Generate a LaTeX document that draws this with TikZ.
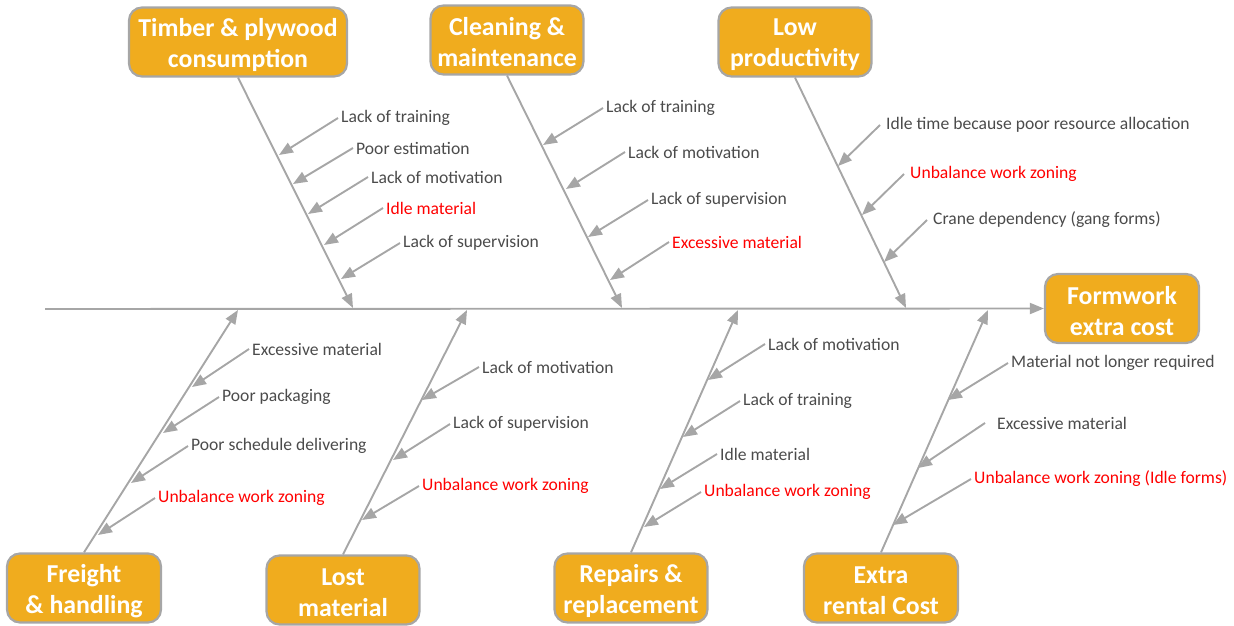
\documentclass[tikz,border=0pt]{standalone}
\usepackage{fontspec}
\setmainfont{Carlito}
\usetikzlibrary{arrows.meta}
\definecolor{boxfill}{RGB}{240,172,30}
\definecolor{linegray}{RGB}{166,166,166}
\definecolor{txtgray}{RGB}{75,75,75}
\definecolor{redtxt}{RGB}{255,0,0}
\begin{document}
\begin{tikzpicture}[x=1pt,y=-1pt,
 cause/.style={draw=linegray, line width=2.2pt, fill=boxfill, rounded corners=13pt,
   minimum height=69pt, inner sep=0pt},
 ctext/.style={text=white, font=\fontsize{25.8}{31}\selectfont\bfseries, align=center, inner sep=0pt},
 lbl/.style={anchor=west, inner sep=3pt, text=txtgray, font=\fontsize{17.6}{20}\selectfont},
 rlbl/.style={lbl, text=redtxt},
 bone/.style={draw=linegray, line width=1.9pt, -{Triangle[length=14pt,width=11pt]}}]
\useasboundingbox (0,0) rectangle (1234,626);
% cause boxes
\node[cause, minimum width=218pt] (tb) at (238,42) {};
\node[cause, minimum width=153pt] (cl) at (507,40) {};
\node[cause, minimum width=153pt] (lp) at (795,42) {};
\node[cause, minimum width=154pt] (fw) at (1122,308.5) {};
\node[cause, minimum width=154pt] (fr) at (84,588) {};
\node[cause, minimum width=153pt] (lm) at (343,590) {};
\node[cause, minimum width=153pt] (rr) at (631,588) {};
\node[cause, minimum width=154pt] (er) at (881,588) {};
\node[ctext] (tbt) at ([yshift=-3pt]tb.center) {Timber \& plywood\\consumption};
\node[ctext] (clt) at ([yshift=-2pt]cl.center) {Cleaning \&\\maintenance};
\node[ctext] (lpt) at ([yshift=-3pt]lp.center) {Low\\productivity};
\node[ctext] (fwt) at ([yshift=-3pt]fw.center) {Formwork\\extra cost};
\node[ctext] (frt) at ([yshift=-3pt]fr.center) {Freight\\\& handling};
\node[ctext] (lmt) at ([yshift=-3pt]lm.center) {Lost\\material};
\node[ctext] (rrt) at ([yshift=-3pt]rr.center) {Repairs \&\\replacement};
\node[ctext] (ert) at ([yshift=-3pt]er.center) {Extra\\rental Cost};
% spine
\coordinate (s0) at (45,309);
\draw[bone] (s0) -- (fw.west);
\coordinate (stb) at (353,308);
\coordinate (scl) at (622,308);
\coordinate (slp) at (906,308);
\coordinate (sfr) at (238,310);
\coordinate (slm) at (467,310);
\coordinate (srr) at (738,310);
\coordinate (ser) at (988,310);
\draw[bone] (tb.south) -- (stb);
\draw[bone] (cl.south) -- (scl);
\draw[bone] (lp.south) -- (slp);
\draw[bone] (fr.north) -- (sfr);
\draw[bone] (lm.north) -- (slm);
\draw[bone] (rr.north) -- (srr);
\draw[bone] (er.north) -- (ser);
% Timber sub-causes
\node[lbl] (t1) at (338,118) {Lack of training};
\node[lbl] (t2) at (353,148) {Poor estimation};
\node[lbl] (t3) at (368,177) {Lack of motivation};
\node[rlbl] (t4) at (383,208) {Idle material};
\node[lbl] (t5) at (400,243) {Lack of supervision};
\coordinate (tc1) at (279,155);
\coordinate (tc2) at (293,184);
\coordinate (tc3) at (308,214);
\coordinate (tc4) at (324,245);
\coordinate (tc5) at (341,279);
\draw[bone] (t1.west) -- (tc1);
\draw[bone] (t2.west) -- (tc2);
\draw[bone] (t3.west) -- (tc3);
\draw[bone] (t4.west) -- (tc4);
\draw[bone] (t5.west) -- (tc5);
% Cleaning sub-causes
\node[lbl] (c1) at (603,108) {Lack of training};
\node[lbl] (c2) at (625,152) {Lack of motivation};
\node[lbl] (c3) at (648,200) {Lack of supervision};
\node[rlbl] (c4) at (669,242) {Excessive material};
\coordinate (cc1) at (543,145);
\coordinate (cc2) at (566,189);
\coordinate (cc3) at (588,237);
\coordinate (cc4) at (610,280);
\draw[bone] (c1.west) -- (cc1);
\draw[bone] (c2.west) -- (cc2);
\draw[bone] (c3.west) -- (cc3);
\draw[bone] (c4.west) -- (cc4);
% Low productivity sub-causes
\node[lbl, inner sep=0pt, anchor=west] (p1) at (886,125) {Idle time because poor resource allocation};
\node[rlbl, inner sep=0pt, anchor=west] (p2) at (910,174) {Unbalance work zoning};
\node[lbl, inner sep=0pt, anchor=west] (p3) at (933,220) {Crane dependency (gang forms)};
\coordinate (pc1) at (838,166);
\coordinate (pc2) at (862,215);
\coordinate (pc3) at (884,262);
\draw[bone] ([xshift=-6pt]p1.west) -- (pc1);
\draw[bone] ([xshift=-6pt]p2.west) -- (pc2);
\draw[bone] ([xshift=-6pt]p3.west) -- (pc3);
% Freight sub-causes
\node[lbl] (f1) at (249,349) {Excessive material};
\node[lbl] (f2) at (219,397) {Poor packaging};
\node[lbl] (f3) at (188,446) {Poor schedule delivering};
\node[rlbl] (f4) at (155,498) {Unbalance work zoning};
\coordinate (fc1) at (192,387);
\coordinate (fc2) at (163,433);
\coordinate (fc3) at (131,483);
\coordinate (fc4) at (98,535);
\draw[bone] (f1.west) -- (fc1);
\draw[bone] (f2.west) -- (fc2);
\draw[bone] (f3.west) -- (fc3);
\draw[bone] (f4.west) -- (fc4);
% Lost material sub-causes
\node[lbl] (m1) at (479,367) {Lack of motivation};
\node[lbl] (m2) at (450,424) {Lack of supervision};
\node[rlbl] (m3) at (419,486) {Unbalance work zoning};
\coordinate (mc1) at (422,400);
\coordinate (mc2) at (393,460);
\coordinate (mc3) at (362,520);
\draw[bone] (m1.west) -- (mc1);
\draw[bone] (m2.west) -- (mc2);
\draw[bone] (m3.west) -- (mc3);
% Repairs sub-causes
\node[lbl] (r1) at (765,344) {Lack of motivation};
\node[lbl] (r2) at (740,401) {Lack of training};
\node[lbl] (r3) at (717,454) {Idle material};
\node[rlbl] (r4) at (701,492) {Unbalance work zoning};
\coordinate (rc1) at (708,380);
\coordinate (rc2) at (683,437);
\coordinate (rc3) at (660,489);
\coordinate (rc4) at (644,527);
\draw[bone] (r1.west) -- (rc1);
\draw[bone] (r2.west) -- (rc2);
\draw[bone] (r3.west) -- (rc3);
\draw[bone] (r4.west) -- (rc4);
% Extra rental sub-causes
\node[lbl] (e1) at (1008,363) {Material not longer required};
\node[lbl, inner sep=0pt] (e2) at (997,423) {Excessive material};
\node[rlbl] (e3) at (971,479) {Unbalance work zoning (Idle forms)};
\coordinate (ec1) at (948,400);
\coordinate (ec2) at (918,468);
\coordinate (ec3) at (893,525);
\draw[bone] (e1.west) -- (ec1);
\draw[bone] ([xshift=-12pt]e2.west) -- (ec2);
\draw[bone] (e3.west) -- (ec3);
\end{tikzpicture}
\end{document}
